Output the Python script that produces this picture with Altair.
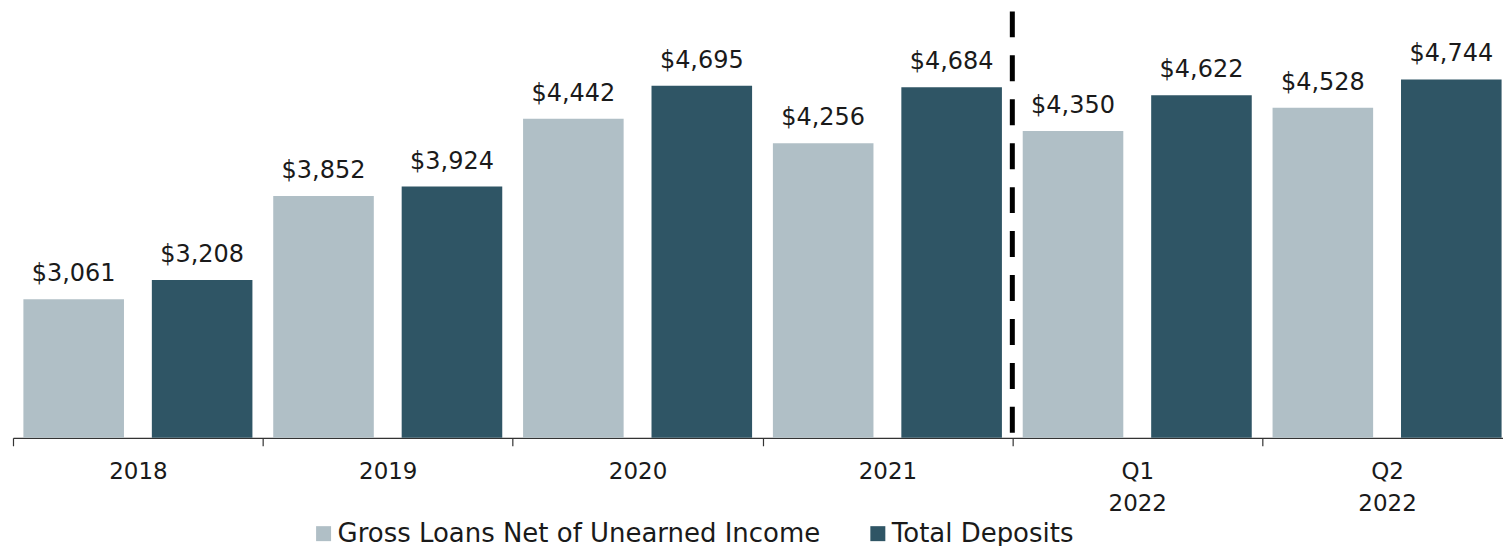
import altair as alt
import pandas as pd

categories = ["2018", "2019", "2020", "2021", "Q1 2022", "Q2 2022"]
loans = [3061, 3852, 4442, 4256, 4350, 4528]
deposits = [3208, 3924, 4695, 4684, 4622, 4744]
series = ["Gross Loans Net of Unearned Income", "Total Deposits"]
colors = ["#B0BFC6", "#2F5565"]
divider_category = ["Q1 2022"]
y_domain = [2000, 5250]

rows = []
for c, l, d in zip(categories, loans, deposits):
    rows.append({"cat": c, "series": series[0], "value": l})
    rows.append({"cat": c, "series": series[1], "value": d})
df = pd.DataFrame(rows)
div_df = pd.DataFrame({"cat": divider_category})

x_axis = alt.Axis(
    title=None, labelAngle=0, tickBand="extent",
    labelExpr="split(datum.label, ' ')",
    labelFont="DejaVu Sans", labelFontSize=23, labelColor="#1a1a1a",
    labelLineHeight=32, labelPadding=15, tickSize=8,
    domainColor="#333333", tickColor="#333333", domainWidth=1.2, tickWidth=1.2,
)
x = alt.X("cat:N", sort=categories,
          scale=alt.Scale(paddingInner=0, paddingOuter=0), axis=x_axis)
xoff = alt.XOffset("series:N", sort=series,
                   scale=alt.Scale(paddingInner=0.217, paddingOuter=0.081))
y = alt.Y("value:Q", scale=alt.Scale(domain=y_domain, zero=False, nice=False), axis=None)
color = alt.Color(
    "series:N", sort=series, scale=alt.Scale(domain=series, range=colors),
    legend=alt.Legend(
        title=None, orient="none", legendX=298, legendY=508, direction="horizontal",
        symbolType="square", symbolSize=225, symbolStrokeWidth=0, symbolOpacity=1,
        labelFont="DejaVu Sans", labelFontSize=26, labelColor="#1a1a1a",
        columnPadding=44, labelOffset=1, labelLimit=0,
    ),
)

bars = alt.Chart(df).mark_bar(clip=True).encode(x=x, xOffset=xoff, y=y, color=color)
labels = alt.Chart(df).mark_text(
    baseline="alphabetic", dy=-18, font="DejaVu Sans", fontSize=24, color="#1a1a1a"
).encode(x=x, xOffset=xoff, y=y, text=alt.Text("value:Q", format="$,.0f"))
rule = alt.Chart(div_df).mark_rule(
    color="black", strokeWidth=5, strokeDash=[26, 18]
).encode(
    x=alt.X("cat:N", sort=categories, bandPosition=0),
    y=alt.datum(5265), y2=alt.datum(y_domain[0]),
)

chart = alt.layer(bars, labels, rule).properties(
    width=1501, height=425,
    padding={"left": 4, "top": 0, "right": -10, "bottom": 0},
).configure_view(stroke=None)

chart.save("out.html", embed_options={"renderer": "svg", "actions": False})
